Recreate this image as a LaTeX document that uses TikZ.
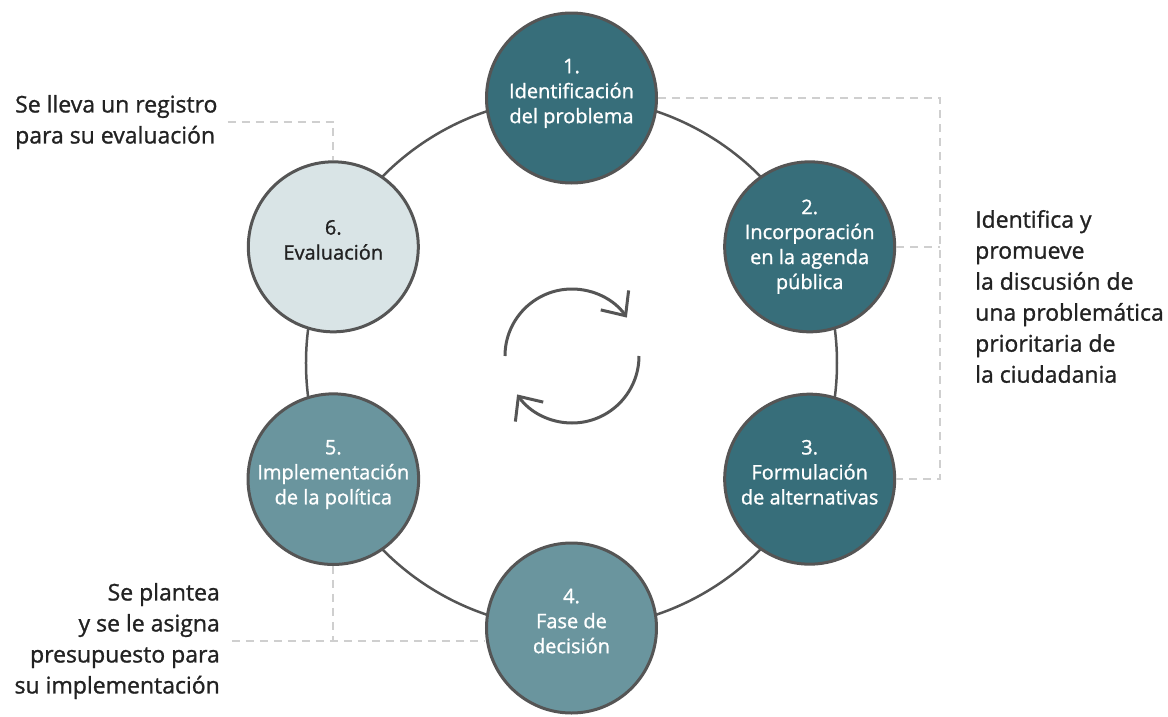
\documentclass[tikz,border=0pt]{standalone}
\usepackage{fontspec}
\setmainfont{Open Sans}[FakeBold=1.1]
\usetikzlibrary{arrows.meta}
\definecolor{tealdark}{HTML}{376E7A}
\definecolor{tealmid}{HTML}{6A959E}
\definecolor{teallight}{HTML}{D9E4E6}
\definecolor{ringgray}{HTML}{555555}
\definecolor{dashgray}{HTML}{CFCFCF}
\definecolor{inkdark}{HTML}{222222}
\tikzset{
  stage/.style={circle, draw=ringgray, line width=3pt, minimum size=170pt,
    inner sep=0pt, align=center, text=white, text depth=14pt,
    font=\fontsize{20}{25}\selectfont},
  note/.style={inner sep=0pt, text=inkdark, font=\fontsize{23}{31}\selectfont},
  link/.style={draw=dashgray, line width=2pt, dash pattern=on 8pt off 6pt},
  ring/.style={draw=ringgray, line width=2.5pt},
  turn/.style={draw=ringgray, line width=3pt,
    -{Straight Barb[length=19pt,width=34pt]}}
}
\begin{document}
\begin{tikzpicture}[x=1pt,y=1pt]
      \useasboundingbox (-571.5,-353) rectangle (596.5,363);
      \draw[ring] (0,0) circle (265.5);
      \draw
        (90:265) node[stage,fill=tealdark] (1) {1.\\Identificación\\del problema}
        (26:265) node[stage,fill=tealdark,text depth=5pt] (2) {2.\\Incorporación\\en la agenda\\pública}
        (-26:265) node[stage,fill=tealdark] (3) {3.\\Formulación\\de alternativas}
        (-90:265) node[stage,fill=tealmid] (4) {4.\\Fase de\\decisión}
        (206:265) node[stage,fill=tealmid] (5) {5.\\Implementación\\de la política}
        (154:265) node[stage,fill=teallight,text=inkdark] (6) {6.\\Evaluación};
      \node[note,anchor=west,align=left] (a) at (-556.5,241)
        {Se lleva un registro\\para su evaluación};
      \node[note,anchor=east,align=right] (b) at (-351.5,-278)
        {Se plantea\\y se le asigna\\presupuesto para\\su implementación};
      \node[note,anchor=west,align=left] (c) at (403.5,66.5)
        {Identifica y\\promueve\\la discusión de\\una problemática\\prioritaria de\\la ciudadania};
      \coordinate (bar) at (368.5,0);
      \begin{scope}[link]
        \draw ([xshift=10pt]a.east) -| (6.north);
        \draw ([xshift=12pt]b.east) -- (b.east -| 4.west);
        \draw (5.south) -- (5.south |- b.east);
        \draw (1.east) -| (bar |- 3.east) -- (3.east);
        \draw (2.east) -- (bar |- 2.east);
      \end{scope}
      \begin{scope}[shift={(0.5,7)},turn]
        \draw (180:67) arc (180:35:67);
        \draw (0:67) arc (0:-145:67);
      \end{scope}
    \end{tikzpicture}
\end{document}
